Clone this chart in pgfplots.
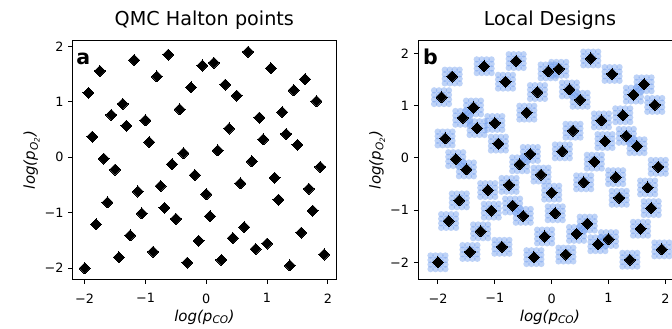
\documentclass[border=0pt]{standalone}
\usepackage{pgfplots}
\usepackage{pgfplotstable}
\pgfplotsset{compat=1.18}
\usepackage{fontspec}
\setmainfont{DejaVu Sans}
\definecolor{cfblue}{RGB}{100,149,237}

\pgfplotstableread{
x y
-2 -2
0 -0.6667
-1 0.6667
1 -1.5556
-1.5 -0.2222
0.5 1.1111
-0.5 -1.1111
1.5 0.2222
-1.75 1.5556
0.25 -1.8519
-0.75 -0.5185
1.25 0.8148
-1.25 -1.4074
0.75 -0.0741
-0.25 1.2593
1.75 -0.9630
-1.875 0.3704
0.125 1.7037
-0.875 -1.7037
1.125 -0.3704
-1.375 0.9630
0.625 -1.2593
-0.375 0.0741
1.625 1.4074
-1.625 -0.8148
0.375 0.5185
-0.625 1.8519
1.375 -1.9506
-1.125 -0.6173
0.875 0.7160
-0.125 -1.5062
1.875 -0.1728
-1.9375 1.1605
0.0625 -1.0617
-0.9375 0.2716
1.0625 1.6049
-1.4375 -1.8025
0.5625 -0.4691
-0.4375 0.8642
1.5625 -1.3580
-1.6875 -0.0247
0.3125 1.3086
-0.6875 -0.9136
1.3125 0.4198
-1.1875 1.7531
0.8125 -1.6543
-0.1875 -0.3210
1.8125 1.0123
-1.8125 -1.2099
0.1875 0.1235
-0.8125 1.4568
1.1875 -0.7654
-1.3125 0.5679
0.6875 1.9012
-0.3125 -1.9012
1.6875 -0.5679
-1.5625 0.7654
0.4375 -1.4568
-0.5625 -0.1235
1.4375 1.2099
-1.0625 -1.0123
0.9375 0.3210
-0.0625 1.6543
1.9375 -1.7531
}\halton

\pgfdeclareplotmark{design}{%
  \foreach \dx in {-7.4,-2.47,2.47,7.4}{%
    \foreach \dy in {-6.8,-2.27,2.27,6.8}{%
      \pgfpathcircle{\pgfpoint{\dx bp}{\dy bp}}{3.2bp}\pgfusepath{fill}}}}

\pgfplotsset{myax/.style={
  scale only axis, width=263.3bp, height=238bp,
  axis line style={line width=1bp},
  tick align=outside, major tick length=4.5bp,
  tick style={line width=1bp, black},
  xtick pos=left, ytick pos=left,
  xtick={-2,-1,0,1,2}, ytick={-2,-1,0,1,2},
  xticklabels={−2,−1,0,1,2}, yticklabels={−2,−1,0,1,2},
  ticklabel style={font=\fontsize{12.8bp}{15bp}\selectfont},
  xticklabel style={anchor=north, inner sep=0pt, yshift=-9.8bp},
  yticklabel style={anchor=east, inner sep=0pt, xshift=-4.5bp},
  title style={font=\fontsize{19.2bp}{22bp}\selectfont, at={([yshift=9.3bp]axis description cs:0.5,1)}, anchor=base, inner sep=0pt},
  xlabel style={font=\fontsize{15bp}{18bp}\selectfont\itshape, at={([yshift=-42bp]axis description cs:0.5,0)}, anchor=base, inner sep=0pt},
  ylabel style={font=\fontsize{15bp}{18bp}\selectfont\itshape, at={([xshift=-33bp]axis description cs:0,0.5)}, anchor=south, inner sep=0pt},
  xlabel={log(p\textsubscript{CO})},
  ylabel={log(p\textsubscript{O\textsubscript{2}})},
}}

\begin{document}
\begin{tikzpicture}
\begin{axis}[myax, at={(72.7bp,-279bp)}, anchor=south west,
  xmin=-2.197, xmax=2.134, ymin=-2.195, ymax=2.096,
  title={QMC Halton points}]
\addplot[only marks, mark=square*, mark size=3.9bp, mark options={rotate=45, fill=black, draw=black, line width=0pt}] table {\halton};
\node[anchor=base west, inner sep=0pt, font=\fontsize{20.5bp}{24bp}\selectfont\bfseries] at ([xshift=3.5bp,yshift=-23.3bp]rel axis cs:0,1) {a};
\end{axis}
\begin{axis}[myax, at={(418.3bp,-279bp)}, anchor=south west,
  xmin=-2.346, xmax=2.285, ymin=-2.32, ymax=2.236,
  title={Local Designs}]
\addplot[only marks, mark=design, mark options={fill=cfblue, draw=none, fill opacity=0.42}] table {\halton};
\addplot[only marks, mark=square*, mark size=3.9bp, mark options={rotate=45, fill=black, draw=black, line width=0pt}] table {\halton};
\node[anchor=base west, inner sep=0pt, font=\fontsize{20.5bp}{24bp}\selectfont\bfseries] at ([xshift=4.5bp,yshift=-24bp]rel axis cs:0,1) {b};
\end{axis}
\pgfresetboundingbox
\useasboundingbox (0,0) rectangle (672bp,-329bp);
\end{tikzpicture}
\end{document}
